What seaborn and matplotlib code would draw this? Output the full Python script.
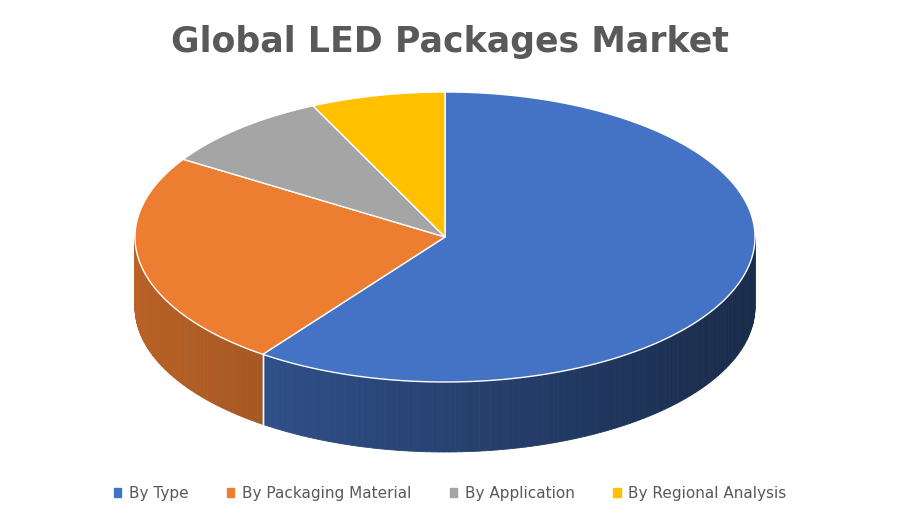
import numpy as np
import matplotlib
matplotlib.use("Agg")
import matplotlib.pyplot as plt
import seaborn as sns
from matplotlib.patches import Polygon, Patch
import matplotlib.colors as mc

categories = ["By Type", "By Packaging Material", "By Application", "By Regional Analysis"]
values = [60.0, 24.0, 9.0, 7.0]
colors = ["#4472c4", "#ed7d31", "#a5a5a5", "#ffc000"]

sns.set_theme(style="white")
fig = plt.figure(figsize=(9, 5.25), dpi=100)
ax = fig.add_axes([0, 0, 1, 1])
ax.set_xlim(0, 900); ax.set_ylim(525, 0); ax.axis("off")

cx, cy, rx, ry, depth = 445, 237, 310, 145, 70
def pt(t):
    return cx + rx*np.cos(t), cy - ry*np.sin(t)

fracs = np.array(values)/sum(values)
bounds = np.deg2rad(90 - 360*np.concatenate([[0], np.cumsum(fracs)]))

# side walls
for i, c in enumerate(colors):
    a0, a1 = bounds[i], bounds[i+1]
    ts = np.linspace(a0, a1, 200)
    base = np.array(mc.to_rgb(c))
    for j in range(len(ts)-1):
        t0, t1 = ts[j], ts[j+1]
        if np.sin((t0+t1)/2) >= 0:
            continue
        f = 0.78 - 0.40*(np.cos((t0+t1)/2)+1)/2
        x0, y0 = pt(t0); x1, y1 = pt(t1)
        ax.add_patch(Polygon([(x0, y0), (x1, y1), (x1, y1+depth), (x0, y0+depth)],
                             closed=True, fc=base*f, ec=base*f, lw=0.6))
    # edge lines at wedge boundaries on front
    for a in (a0, a1):
        if np.sin(a) < 0:
            x, y = pt(a)
            ax.plot([x, x], [y, y+depth], color="white", lw=1)

# tops
for i, c in enumerate(colors):
    ts = np.linspace(bounds[i], bounds[i+1], 200)
    pts = [(cx, cy)] + [pt(t) for t in ts]
    ax.add_patch(Polygon(pts, closed=True, fc=c, ec="white", lw=1))

fig.text(0.5, 0.92, "Global LED Packages Market", ha="center", va="center",
         fontsize=25, fontweight="bold", color="#595959", family="DejaVu Sans")
handles = [Patch(fc=c, ec=c) for c in colors]
fig.legend(handles, categories, loc="center", bbox_to_anchor=(0.5, 0.06), ncol=4,
           frameon=False, fontsize=11, handlelength=0.5, handleheight=0.5,
           columnspacing=2.5, handletextpad=0.5, labelcolor="#595959")
fig.savefig("out.png", dpi=100)
